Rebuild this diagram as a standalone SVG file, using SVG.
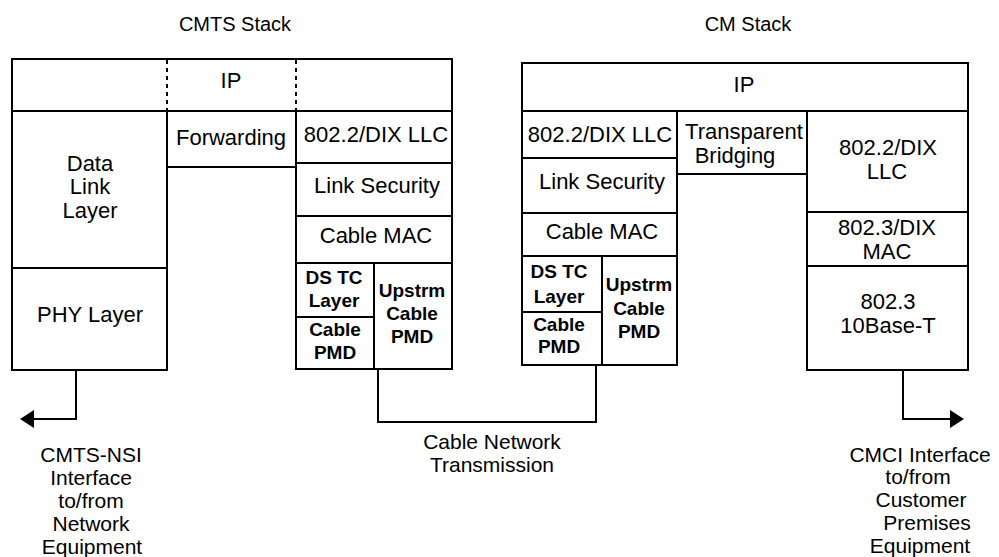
<svg xmlns="http://www.w3.org/2000/svg" width="999" height="557" viewBox="0 0 999 557">
<style>
.box{fill:#fff;stroke:#000;stroke-width:2}
.dot{stroke:#000;stroke-width:2;stroke-dasharray:4 4;fill:none}
.con{stroke:#000;stroke-width:2;fill:none}
text{font-family:"Liberation Sans",Arial,sans-serif;fill:#000;text-anchor:middle}
.t{font-size:22px}
.b{font-size:19px;font-weight:bold}
.l{font-size:21px}
.h{font-size:20px}
</style>
<defs>
<marker id="arr" viewBox="0 0 14 18" refX="0" refY="9" markerWidth="14" markerHeight="18" markerUnits="userSpaceOnUse" orient="auto">
<path d="M0,0 L14,9 L0,18 z" fill="#000"/>
</marker>
</defs>
<rect width="999" height="557" fill="#fff"/>

<text class="h" x="235" y="31">CMTS Stack</text>
<text class="h" x="748" y="31">CM Stack</text>

<g id="cmts">
<g id="cmts-ip"><rect class="box" x="12" y="59" width="440" height="52"/>
<line class="dot" x1="167" y1="60" x2="167" y2="110"/>
<line class="dot" x1="296" y1="60" x2="296" y2="110"/>
<text class="t" x="231" y="88">IP</text></g>
<g id="cmts-dll"><rect class="box" x="12" y="111" width="155" height="157"/>
<text class="t"><tspan x="90" y="171">Data</tspan><tspan x="90" y="194">Link</tspan><tspan x="90" y="218">Layer</tspan></text></g>
<g id="cmts-phy"><rect class="box" x="12" y="268" width="155" height="102"/>
<text class="t" x="90" y="322">PHY Layer</text></g>
<g id="cmts-fwd"><rect class="box" x="167" y="111" width="129" height="56"/>
<text class="t" x="231" y="145">Forwarding</text></g>
<g id="cmts-llc"><rect class="box" x="296" y="111" width="156" height="52"/>
<text class="t" x="376" y="142">802.2/DIX LLC</text></g>
<g id="cmts-sec"><rect class="box" x="296" y="163" width="156" height="53"/>
<text class="t" x="377" y="193">Link Security</text></g>
<g id="cmts-mac"><rect class="box" x="296" y="216" width="156" height="47"/>
<text class="t" x="376" y="243">Cable MAC</text></g>
<g id="cmts-dstc"><rect class="box" x="296" y="263" width="78" height="54"/>
<text class="b"><tspan x="334" y="284">DS TC</tspan><tspan x="334" y="307">Layer</tspan></text></g>
<g id="cmts-pmd"><rect class="box" x="296" y="317" width="78" height="52"/>
<text class="b"><tspan x="335" y="336">Cable</tspan><tspan x="335" y="359">PMD</tspan></text></g>
<g id="cmts-up"><rect class="box" x="374" y="263" width="78" height="106"/>
<text class="b"><tspan x="412" y="297">Upstrm</tspan><tspan x="412" y="320">Cable</tspan><tspan x="412" y="343">PMD</tspan></text></g>
</g>

<g id="cm">
<g id="cm-ip"><rect class="box" x="522" y="63" width="446" height="48"/>
<text class="t" x="744" y="92">IP</text></g>
<g id="cm-llc"><rect class="box" x="522" y="111" width="155" height="47"/>
<text class="t" x="600" y="142">802.2/DIX LLC</text></g>
<g id="cm-sec"><rect class="box" x="522" y="158" width="155" height="55"/>
<text class="t" x="602" y="189">Link Security</text></g>
<g id="cm-mac"><rect class="box" x="522" y="213" width="155" height="43"/>
<text class="t" x="602" y="239">Cable MAC</text></g>
<g id="cm-dstc"><rect class="box" x="522" y="256" width="80" height="56"/>
<text class="b"><tspan x="559" y="278">DS TC</tspan><tspan x="559" y="303">Layer</tspan></text></g>
<g id="cm-pmd"><rect class="box" x="522" y="312" width="80" height="53"/>
<text class="b"><tspan x="559" y="331">Cable</tspan><tspan x="559" y="353">PMD</tspan></text></g>
<g id="cm-up"><rect class="box" x="602" y="256" width="75" height="109"/>
<text class="b"><tspan x="639" y="291">Upstrm</tspan><tspan x="639" y="315">Cable</tspan><tspan x="639" y="338">PMD</tspan></text></g>
<g id="cm-bridge"><rect class="box" x="677" y="111" width="130" height="63"/>
<text class="t"><tspan x="744" y="139">Transparent</tspan><tspan x="735" y="163">Bridging</tspan></text></g>
<g id="cm-llc2"><rect class="box" x="807" y="111" width="161" height="101"/>
<text class="t"><tspan x="888" y="155">802.2/DIX</tspan><tspan x="887" y="179">LLC</tspan></text></g>
<g id="cm-mac2"><rect class="box" x="807" y="212" width="161" height="54"/>
<text class="t"><tspan x="887" y="235">802.3/DIX</tspan><tspan x="887" y="259">MAC</tspan></text></g>
<g id="cm-phy"><rect class="box" x="807" y="266" width="161" height="104"/>
<text class="t"><tspan x="888" y="309">802.3</tspan><tspan x="888" y="333">10Base-T</tspan></text></g>
</g>

<g id="connectors">
<polyline class="con" points="76,370 76,419 34,419" marker-end="url(#arr)"/>
<polyline class="con" points="378,369 378,422 596,422 596,365"/>
<polyline class="con" points="903,370 903,419 950,419" marker-end="url(#arr)"/>
</g>

<g id="labels">
<text class="l"><tspan x="91" y="462">CMTS-NSI</tspan><tspan x="91" y="485">Interface</tspan><tspan x="91" y="508">to/from</tspan><tspan x="91" y="531">Network</tspan><tspan x="92" y="554">Equipment</tspan></text>
<text class="l"><tspan x="492" y="449">Cable Network</tspan><tspan x="492" y="472">Transmission</tspan></text>
<text class="l"><tspan x="920" y="462">CMCI Interface</tspan><tspan x="918" y="484">to/from</tspan><tspan x="921" y="507">Customer</tspan><tspan x="927" y="530">Premises</tspan><tspan x="920" y="553">Equipment</tspan></text>
</g>
</svg>
